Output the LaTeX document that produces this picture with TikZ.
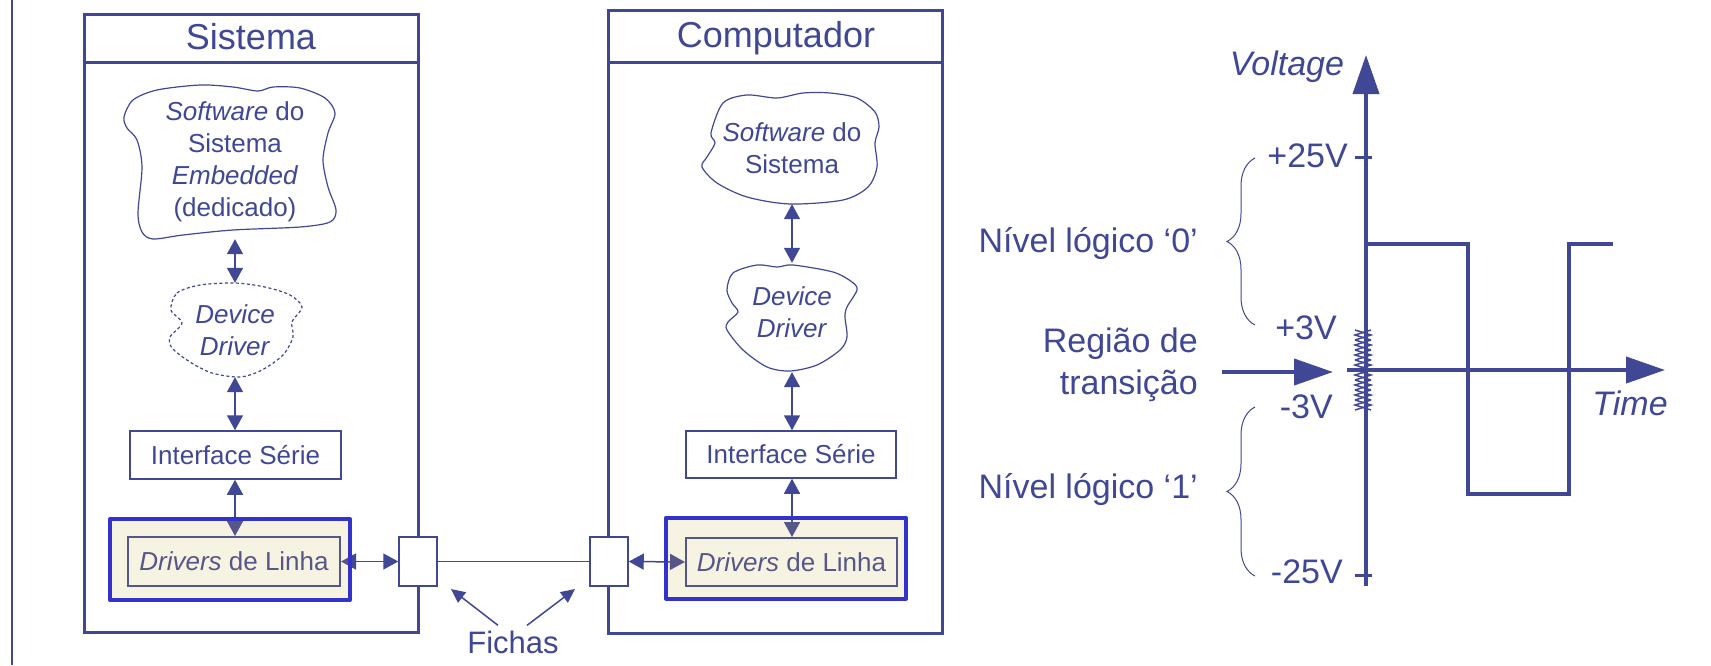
\documentclass[tikz,border=0pt]{standalone}
\usepackage{fontspec}
\setmainfont{Liberation Sans}
\usetikzlibrary{arrows.meta,positioning,decorations.pathreplacing}

\definecolor{ink}{RGB}{64,72,150}
\definecolor{rim}{RGB}{51,51,204}
\definecolor{gold}{RGB}{208,175,62}

\tikzset{
  outer/.style={draw=ink, line width=3pt},
  box/.style={draw=ink, line width=1.5pt, inner sep=0pt},
  blob/.style={draw=ink, line width=1.2pt},
  txt/.style={text=ink, font=\fontsize{26}{32}\selectfont, align=center, inner sep=0pt},
  head/.style={text=ink, font=\fontsize{36}{40}\selectfont, anchor=base, inner sep=0pt},
  volt/.style={text=ink, font=\fontsize{34}{42}\selectfont, inner sep=0pt},
  axis/.style={draw=ink, line width=4pt},
  big/.style={axis, ->, >={Triangle[length=39pt, width=26pt]}},
  link/.style={draw=ink, line width=1.5pt, <->, >={Triangle[length=15pt, width=16pt]}},
  hint/.style={draw=ink, line width=1.5pt, ->, >={Triangle[length=14pt, width=13pt]}},
  panel/.style={draw=rim, line width=4pt, line join=round, fill=gold, fill opacity=0.15, minimum width=240pt, minimum height=81pt, inner sep=0pt},
  plug/.style={box, fill=white, minimum width=38pt, minimum height=49pt}
}

\begin{document}
\begin{tikzpicture}[x=1pt, y=-1pt]
  \useasboundingbox [fill=white] (0, 0) rectangle (1711, 665);
  \draw [ink, line width=2.5pt] (12, 0) -- (12, 665);

  \draw [outer] (84, 14) rectangle (418, 632);
  \draw [outer] (84, 62) -- (418, 62);
  \node [head] (sistema) at (251, 49) {Sistema};
  \draw [outer] (608, 10) rectangle (942, 633);
  \draw [outer] (608, 62) -- (942, 62);
  \node [head] (computador) at (776, 47) {Computador};

  \draw [blob] plot [smooth cycle] coordinates {(124, 117) (133, 100) (157, 90) (200, 85) (233, 87) (258, 91) (273, 87) (300, 88) (325, 98) (335, 113) (328, 133) (323, 160) (328, 187) (336, 210) (330, 222) (300, 227) (233, 230) (183, 235) (153, 239) (142, 232) (138, 213) (142, 167) (137, 140) (127, 128)};
  \node [txt, minimum width=212pt, minimum height=154pt] (swsis) at (235, 162) {\textit{Software} do\\Sistema\\\textit{Embedded}\\(dedicado)};
  \draw [blob, dash pattern=on 3pt off 2.5pt] plot [smooth cycle] coordinates {(171, 310) (177, 293) (200, 285) (235, 283) (265, 287) (290, 295) (302, 307) (292, 322) (293, 337) (283, 355) (262, 370) (240, 377) (212, 373) (190, 362) (172, 348) (170, 337) (182, 323)};
  \node [txt, minimum width=133pt, minimum height=94pt] (ddsis) at (235, 330) {\textit{Device}\\\textit{Driver}};
  \node [box, txt, minimum width=211pt, minimum height=48pt] (ifsis) at (235.5, 455) {Interface Série};
  \node [box, txt, line width=2pt, minimum width=212pt, minimum height=49pt] (drvsis) at (234, 561.5) {\textit{Drivers} de Linha};
  \node [plug] (plugsis) at (418, 561.5) {};

  \draw [blob] plot [smooth cycle] coordinates {(711, 133) (723, 103) (747, 95) (777, 98) (803, 93) (830, 93) (857, 98) (875, 112) (879, 127) (875, 143) (877, 167) (868, 187) (843, 200) (790, 204) (747, 197) (717, 183) (702, 167) (707, 157) (715, 143)};
  \node [txt, minimum width=178pt, minimum height=112pt] (swcomp) at (792, 148) {\textit{Software} do\\Sistema};
  \draw [blob] plot [smooth cycle] coordinates {(727, 290) (733, 273) (757, 265) (777, 267) (793, 265) (833, 272) (852, 282) (857, 290) (847, 307) (845, 317) (847, 337) (840, 350) (817, 365) (790, 371) (767, 367) (743, 350) (727, 330) (728, 322) (738, 312) (732, 303)};
  \node [txt, minimum width=130pt, minimum height=109pt] (ddcomp) at (792, 317.5) {\textit{Device}\\\textit{Driver}\\[-21pt]};
  \node [box, txt, minimum width=210pt, minimum height=47pt] (ifcomp) at (791, 454.5) {Interface Série};
  \node [box, txt, line width=2pt, minimum width=211pt, minimum height=48pt] (drvcomp) at (791.5, 562) {\textit{Drivers} de Linha};
  \node [plug] (plugcomp) at (609, 561.5) {};

  \draw [link] (swsis.south) -- (swsis.south |- ddsis.north);
  \draw [link] (ddsis.south) -- (ddsis.south |- ifsis.north);
  \draw [link] (ddsis.south |- ifsis.south) -- (ddsis.south |- drvsis.north);
  \draw [link] (drvsis.east) -- (plugsis.west);
  \draw [link] (swcomp.south) -- (swcomp.south |- ddcomp.north);
  \draw [link] (ddcomp.south) -- (ddcomp.south |- ifcomp.north);
  \draw [link] (ddcomp.south |- ifcomp.south) -- (ddcomp.south |- drvcomp.north);
  \draw [link] (plugcomp.east) -- (drvcomp.west);
  \draw [ink, line width=1.5pt] (plugsis.east) -- (plugcomp.west);

  \node [panel] (linesis) at (230, 559.5) {};
  \node [panel] (linecomp) at (786, 558) {};

  \node [txt, font=\fontsize{31}{36}\selectfont, anchor=base] (fichas) at (513, 653) {Fichas};
  \coordinate (aimsis) at (451, 589);
  \coordinate (aimcomp) at (575, 589);
  \draw [hint] ([xshift=-15pt, yshift=5pt]fichas.north) -- (aimsis);
  \draw [hint] ([xshift=14pt, yshift=5pt]fichas.north) -- (aimcomp);

  \foreach \k in {0, ..., 7} {
    \draw [ink, line width=1.5pt] (1355, 330 + 10*\k) -- (1371, 335 + 10*\k) -- (1355, 340 + 10*\k);
    \draw [ink, line width=1.5pt] (1371, 330 + 10*\k) -- (1355, 335 + 10*\k) -- (1371, 340 + 10*\k);
  }
  \coordinate (ytop) at (1366, 55);
  \coordinate (ybot) at (1366, 586);
  \coordinate (xleft) at (1347, 370);
  \coordinate (xright) at (1665, 370);
  \draw [big] (ybot) -- (ytop);
  \draw [big] (xleft) -- (xright);
  \draw [axis, line width=3pt] (1355, 157) -- (1372, 157);
  \draw [axis, line width=3pt] (1355, 575) -- (1372, 575);
  \draw [axis, line join=miter] (1366, 244) -- (1468, 244) -- (1468, 494) -- (1569, 494) -- (1569, 244) -- (1613, 244);

  \node [volt, anchor=base] (voltage) at (1287, 75) {\textit{Voltage}};
  \node [volt, anchor=base] (time) at (1630, 415) {\textit{Time}};
  \node [volt, anchor=base east] (hi25) at (1348, 167) {+25V};
  \node [volt, anchor=base east] (hi3) at (1337, 339) {+3V};
  \node [volt, anchor=base east] (lo3) at (1333, 418) {-3V};
  \node [volt, anchor=base east] (lo25) at (1343, 583) {-25V};

  \draw [ink, line width=1pt, decorate, decoration={brace, amplitude=28pt}] (1255, 325) -- (1255, 158);
  \draw [ink, line width=1pt, decorate, decoration={brace, amplitude=28pt}] (1255, 576) -- (1255, 407);
  \node [volt, anchor=base east] (nivel0) at (1198, 252) {Nível lógico ‘0’};
  \node [volt, anchor=base east] (nivel1) at (1198, 498) {Nível lógico ‘1’};
  \node [volt, anchor=east, align=right] (regiao) at (1198, 365) {Região de\\transição};
  \coordinate (trans) at (1333, 372);
  \draw [big, shorten <=24pt] (regiao.east |- trans) -- (trans);
\end{tikzpicture}
\end{document}
